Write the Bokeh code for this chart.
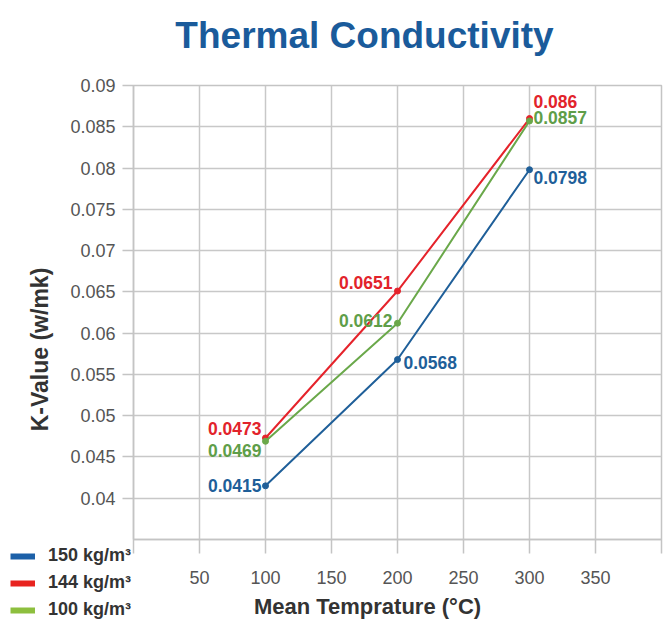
from bokeh.plotting import figure
from bokeh.models import (Range1d, FixedTicker, CustomJSTickFormatter, Label,
                          Legend, LegendItem, ColumnDataSource, GridBox)
from bokeh.core.properties import value
from bokeh.embed import file_html
from bokeh.resources import INLINE

# ---- data ----
temps = [100, 200, 300]
k_150 = [0.0415, 0.0568, 0.0798]
k_144 = [0.0473, 0.0651, 0.086]
k_100 = [0.0469, 0.0612, 0.0857]
series_names = ["150 kg/m³", "144 kg/m³", "100 kg/m³"]
x_ticks = [0, 50, 100, 150, 200, 250, 300, 350, 400]
y_ticks = [0.04, 0.045, 0.05, 0.055, 0.06, 0.065, 0.07, 0.075, 0.08, 0.085, 0.09]

FONT = "Liberation Sans"
W, H = 669, 622
BL, BR, BT, BB = 133, 8, 85, 83

p = figure(width=W, height=H, x_range=Range1d(0, 400), y_range=Range1d(0.035, 0.09),
           output_backend="svg", toolbar_location=None,
           min_border_left=BL, min_border_right=BR, min_border_top=BT, min_border_bottom=BB)
p.frame_align = False
p.background_fill_color = "white"
p.border_fill_color = "white"
p.outline_line_color = "#c4c4c4"
p.outline_line_width = 1.5

grid_col = "#c8c8c8"
p.xgrid.ticker = FixedTicker(ticks=x_ticks)
p.ygrid.ticker = FixedTicker(ticks=y_ticks)
for g in (p.xgrid, p.ygrid):
    g.grid_line_color = grid_col
    g.grid_line_width = 1.5

ax = p.xaxis[0]
ax.ticker = FixedTicker(ticks=x_ticks)
ax.formatter = CustomJSTickFormatter(code="return (tick > 0 && tick < 400) ? tick.toFixed(0) : '';")
ax.major_tick_out = 14
ax.major_tick_in = 0
ax.major_label_standoff = 17
ay = p.yaxis[0]
ay.ticker = FixedTicker(ticks=y_ticks)
ay.formatter = CustomJSTickFormatter(code="return String(parseFloat(tick.toFixed(3)));")
ay.major_tick_out = 11
ay.major_tick_in = 0
ay.major_label_standoff = 7
for a in (ax, ay):
    a.axis_line_color = "#c4c4c4"
    a.axis_line_width = 1.5
    a.major_tick_line_color = "#c4c4c4"
    a.major_tick_line_width = 1.5
    a.minor_tick_line_color = None
    a.major_label_text_font = FONT
    a.major_label_text_font_size = "18px"
    a.major_label_text_color = "#555555"

line_cols = ["#1f5f99", "#e5232b", "#6aa84a"]
text_cols = ["#1f5f99", "#e2232b", "#5f9e49"]
legend_cols = ["#1c60a8", "#e8231f", "#8dbf3e"]
series = [k_150, k_144, k_100]
x_offs = [[-4, 6, 4], [-4, -5, 4], [-4, -5, 4]]
y_offs = [[0, 3, 8], [-9, -9, -17], [9, -3, -3]]
aligns = [["right", "left", "left"], ["right", "right", "left"], ["right", "right", "left"]]

for vals, lc, tc, xo, yo, al in zip(series, line_cols, text_cols, x_offs, y_offs, aligns):
    src = ColumnDataSource(dict(x=temps, y=vals, t=[str(v) for v in vals],
                                xo=xo, yo=yo, al=al))
    p.line("x", "y", source=src, line_color=lc, line_width=2)
    p.scatter("x", "y", source=src, size=6, fill_color=lc, line_color=lc)
    p.text("x", "y", text="t", source=src, x_offset="xo", y_offset="yo",
           text_align="al", text_baseline="middle", text_color=tc,
           text_font=value(FONT), text_font_size="17.5px", text_font_style="bold")

# ---- transparent overlay (pixel coordinates) for title, axis titles, legend ----
o = figure(width=W, height=H, x_range=Range1d(0, W), y_range=Range1d(H, 0),
           x_axis_location=None, y_axis_location=None, toolbar_location=None,
           output_backend="svg", min_border_left=0, min_border_right=0,
           min_border_top=0, min_border_bottom=0)
o.frame_align = False
o.grid.visible = False
o.outline_line_color = None
o.background_fill_alpha = 0
o.border_fill_alpha = 0
# legend swatch renderers: the series, drawn on a range that keeps them off-canvas
o.extra_y_ranges = {"offscreen": Range1d(10, 20)}

items = []
for name, vals, c in zip(series_names, series, legend_cols):
    r = o.line(x=temps, y=vals, y_range_name="offscreen", line_color=c, line_width=6)
    items.append(LegendItem(label=name, renderers=[r]))
legend = Legend(items=items, location=(10, 2), orientation="vertical",
                glyph_width=25, glyph_height=20, label_height=20, label_standoff=13,
                spacing=6, padding=0, margin=0, border_line_color=None,
                background_fill_alpha=0, label_text_font=FONT,
                label_text_font_size="18px", label_text_font_style="bold",
                label_text_color="#333333")
o.add_layout(legend)

o.add_layout(Label(x=364, y=35, text="Thermal Conductivity",
                   text_align="center", text_baseline="middle",
                   text_font=FONT, text_font_size="37px", text_font_style="bold",
                   text_color="#1a5b9b"))
o.add_layout(Label(x=367, y=606, text="Mean Temprature (°C)",
                   text_align="center", text_baseline="middle",
                   text_font=FONT, text_font_size="22px", text_font_style="bold",
                   text_color="#333333"))
o.add_layout(Label(x=39, y=349, text="K-Value (w/mk)", angle=1.5707963,
                   text_align="center", text_baseline="middle",
                   text_font=FONT, text_font_size="23px", text_font_style="bold",
                   text_color="#333333"))

layout = GridBox(children=[(p, 0, 0), (o, 0, 0)])
open("out.html", "w").write(file_html(layout, INLINE))
